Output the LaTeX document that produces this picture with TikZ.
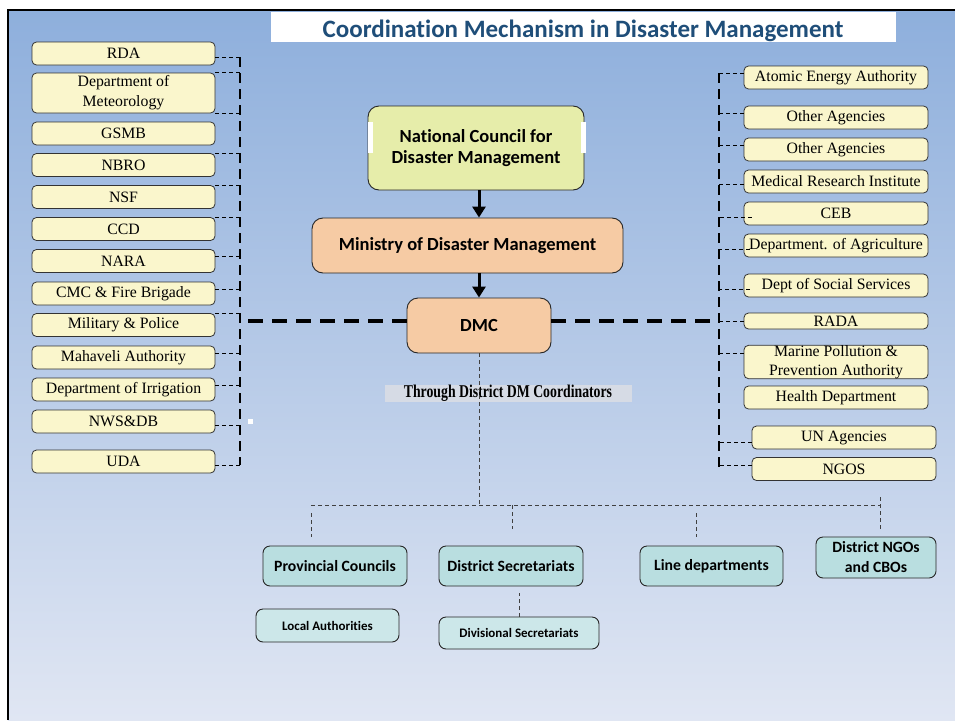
\documentclass[tikz,border=0pt]{standalone}
\usepackage{fontspec}
\setmainfont{Liberation Serif}
\newfontfamily\calibri[Ligatures=NoCommon]{Carlito}
\usetikzlibrary{arrows.meta}
\definecolor{slidetop}{RGB}{142,175,220}
\definecolor{slidebot}{RGB}{224,230,243}
\definecolor{titleblue}{RGB}{31,78,121}
\definecolor{agencyfill}{RGB}{250,246,204}
\definecolor{councilfill}{RGB}{230,237,170}
\definecolor{peach}{RGB}{246,203,164}
\definecolor{tealdark}{RGB}{185,222,224}
\definecolor{teallight}{RGB}{204,231,233}
\definecolor{labelbg}{RGB}{214,219,229}

\begin{document}
\begin{tikzpicture}[x=1pt,y=-1pt]
\tikzstyle{agency}=[draw=black!80, line width=0.8pt, rounded corners=4.5pt, fill=agencyfill, minimum width=183pt, minimum height=23pt, inner sep=1pt, align=center, font=\fontsize{15.8}{20}\selectfont]
\tikzstyle{core}=[draw=black!85, line width=0.9pt, rounded corners=11pt, fill=peach, align=center, font=\calibri\bfseries\fontsize{18.5}{21}\selectfont]
\tikzstyle{district}=[draw=black!85, line width=0.9pt, rounded corners=7pt, fill=tealdark, minimum width=144pt, minimum height=40pt, inner sep=1pt, align=center, font=\calibri\bfseries\fontsize{15.7}{20}\selectfont]
\tikzstyle{subdistrict}=[district, fill=teallight, minimum height=33pt, font=\calibri\bfseries\fontsize{13}{16}\selectfont]
\tikzstyle{spine}=[draw, line width=2.6pt, dash pattern=on 10pt off 6pt]
\tikzstyle{trunk}=[draw, line width=3.2pt, dash pattern=on 15pt off 9pt]
\tikzstyle{link}=[draw, line width=1pt, dash pattern=on 4pt off 3pt]
\tikzstyle{bus}=[draw=black!75, line width=0.9pt, dash pattern=on 4pt off 3pt]
\tikzstyle{flow}=[draw, line width=3pt, -{Triangle[width=13pt,length=11pt]}]

% Slide background
\useasboundingbox (0,0) rectangle (955,720);
\fill[white] (0,0) rectangle (955,720);
\shade[top color=slidetop, bottom color=slidebot] (8,10) rectangle (955,720);
\draw[line width=2.5pt] (8,720) -- (8,10) -- (955,10);

% Title
\fill[white] (271,12) rectangle (896,42);
\node[font=\calibri\bfseries\fontsize{25}{30}\selectfont, text=titleblue] (title) at (583,31) {Coordination Mechanism in Disaster Management};

% Left agencies
\node[agency] (rda) at (123.5,53.5) {RDA};
\node[agency, minimum height=40pt] (met) at (123.5,93) {Department of\\Meteorology};
\node[agency] (gsmb) at (123.5,133.5) {GSMB};
\node[agency] (nbro) at (123.5,165) {NBRO};
\node[agency] (nsf) at (123.5,197) {NSF};
\node[agency] (ccd) at (123.5,229) {CCD};
\node[agency] (nara) at (123.5,261) {NARA};
\node[agency] (cmc) at (123.5,293.5) {CMC \& Fire Brigade};
\node[agency] (mil) at (123.5,325) {Military \& Police};
\node[agency] (mah) at (123.5,357.5) {Mahaveli Authority};
\node[agency] (irr) at (123.5,389.5) {Department of Irrigation};
\node[agency] (nws) at (123.5,421.5) {NWS\&DB};
\node[agency] (uda) at (123.5,461.5) {UDA};

% Right agencies
\node[agency, minimum width=184pt] (atomic) at (836,77.5) {Atomic Energy Authority};
\node[agency, minimum width=184pt] (other1) at (836,117.5) {Other Agencies};
\node[agency, minimum width=184pt] (other2) at (836,149.5) {Other Agencies};
\node[agency, minimum width=184pt] (mri) at (836,181.5) {Medical Research Institute};
\node[agency, minimum width=184pt] (ceb) at (836,213.5) {CEB};
\node[agency, minimum width=184pt] (agri) at (836,245.5) {Department. of Agriculture};
\node[agency, minimum width=184pt] (social) at (836,285.5) {Dept of Social Services};
\node[agency, minimum width=184pt, minimum height=16pt, inner sep=0pt] (rada) at (836,321) {RADA};
\node[agency, minimum width=184pt, minimum height=31pt, inner sep=0pt, font=\fontsize{15.8}{19}\selectfont] (marine) at (836,362) {Marine Pollution \&\\Prevention Authority};
\node[agency, minimum width=184pt] (health) at (836,397.5) {Health Department};
\node[agency, minimum width=184pt] (un) at (844,437.5) {UN Agencies};
\node[agency, minimum width=184pt] (ngos) at (844,469) {NGOS};

% Central chain
\node[core, fill=councilfill, minimum width=216pt, minimum height=84pt] (ncdm) at (476,148) {National Council for\\Disaster Management};
\fill[white] (368,122) rectangle (373,153);
\fill[white] (581,122) rectangle (586,153);
\node[core, minimum width=311pt, minimum height=55pt] (mdm) at (467.5,245.5) {Ministry of Disaster Management};
\node[core, minimum width=144pt, minimum height=55pt] (dmc) at (479,325.5) {DMC};
\draw[flow] (ncdm.south -| dmc.north) -- (mdm.north -| dmc.north);
\draw[flow] (mdm.south -| dmc.north) -- (dmc.north);

% Spines
\coordinate (ltop) at (240,57);
\coordinate (lbot) at (240,465);
\coordinate (rtop) at (719,73);
\coordinate (rbot) at (719,471);
\draw[spine] (ltop) -- (lbot);
\draw[spine] (rtop) -- (rbot);
\draw[trunk] ([yshift=4.5pt]dmc.west) -- ([yshift=4.5pt]dmc.west -| lbot);
\draw[trunk] ([yshift=4.5pt]dmc.east) -- ([yshift=4.5pt]dmc.east -| rbot);
\fill[white] (248,419) rectangle (253,424);

% Left links
\draw[link] ([yshift=-3.5pt]rda.east) -- +(25,0);
\draw[link] (met.north east) -- +(25,0);
\draw[link] (met.south east) -- +(25,0);
\draw[link] (nbro.north east) -- +(25,0);
\draw[link] (nsf.north east) -- +(25,0);
\draw[link] (ccd.north east) -- +(25,0);
\draw[link] ([yshift=5pt]nara.east) -- +(25,0);
\draw[link] ([yshift=4.5pt]cmc.east) -- +(25,0);
\draw[link] (mil.north east) -- +(25,0);
\draw[link] ([yshift=4.5pt]mah.east) -- +(25,0);
\draw[link] ([yshift=4.5pt]irr.east) -- +(25,0);
\draw[link] ([yshift=-3.5pt]nws.east) -- +(25,0);
\draw[link] ([yshift=-3.5pt]uda.east) -- +(25,0);

% Right links
\draw[link] ([yshift=4.5pt]atomic.west) -- +(-25,0);
\draw[link] ([yshift=4.5pt]other1.west) -- +(-25,0);
\draw[link] ([yshift=4.5pt]other2.west) -- +(-25,0);
\draw[link] ([yshift=-2.5pt]mri.west) -- +(-25,0);
\draw[link] ([xshift=8pt,yshift=-3.5pt]ceb.west) -- +(-33,0);
\draw[link] ([xshift=6pt,yshift=-3.5pt]agri.west) -- +(-31,0);
\draw[link] ([xshift=6pt,yshift=-3.5pt]social.west) -- +(-31,0);
\draw[link] (rada.west) -- +(-25,0);
\draw[link] ([yshift=9pt]marine.west) -- +(-25,0);
\draw[link] ([yshift=-4.5pt]un.west) -- +(-33,0);
\draw[link] ([yshift=4pt]ngos.west) -- +(-33,0);

% District level
\node[fill=labelbg, minimum width=247pt, minimum height=17pt, inner sep=0pt, font=\bfseries\fontsize{18}{18}\selectfont] (via) at (508,393.5) {\scalebox{0.765}[1]{Through District DM Coordinators}};
\coordinate (hub) at (479,505);
\coordinate (busl) at (311,505);
\coordinate (busr) at (880,505);
\draw[bus] (dmc.south) -- (hub);
\draw[bus] (busl) -- (busr);
\draw[bus] (311,513) -- (311,537);
\draw[bus] (512,505) -- (512,529);
\draw[bus] (696,513) -- (696,537);
\draw[bus] (880,497) -- (880,529);

\node[district] (pc) at (335,566) {Provincial Councils};
\node[district] (dsec) at (511,566) {District Secretariats};
\node[district, minimum width=143pt] (ldep) at (711.5,566) {Line departments};
\node[district, minimum width=120pt, minimum height=41pt] (dngo) at (876,557.5) {District NGOs\\and CBOs};
\node[subdistrict, minimum width=143pt] (la) at (327.5,625.5) {Local Authorities};
\node[subdistrict, minimum width=160pt, minimum height=32pt] (dvs) at (519,633) {Divisional Secretariats};
\draw[bus] (dvs.north) -- ++(0,-24);
\end{tikzpicture}
\end{document}
